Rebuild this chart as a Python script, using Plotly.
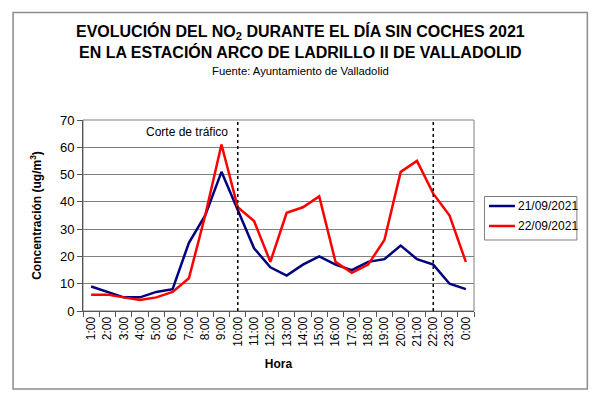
import plotly.graph_objects as go

hours = ["1:00", "2:00", "3:00", "4:00", "5:00", "6:00", "7:00", "8:00", "9:00", "10:00",
         "11:00", "12:00", "13:00", "14:00", "15:00", "16:00", "17:00", "18:00", "19:00",
         "20:00", "21:00", "22:00", "23:00", "0:00"]
day21 = [9, 7, 5, 5, 7, 8, 25, 35, 51, 37, 23, 16, 13, 17, 20, 17, 15, 18, 19, 24, 19, 17, 10, 8]
day22 = [6, 6, 5, 4, 5, 7, 12, 35, 61, 38, 33, 18, 36, 38, 42, 18, 14, 17, 26, 51, 55, 43, 35, 18]
series_names = ["21/09/2021", "22/09/2021"]
series_colors = ["#00007F", "#FF0000"]
cut_hours = ["10:00", "22:00"]
y_ticks = [0, 10, 20, 30, 40, 50, 60, 70]

OFF = 8  # page body margin
W, H = 600 - OFF, 399 - OFF
L, R, T, B = 82.5 - OFF, 474 - OFF, 120 - OFF, 311 - OFF


def px(x):
    return (x - OFF - L) / (R - L)


def py(y):
    return (B - (y - OFF)) / (B - T)


FONT = "Liberation Sans, Arial, sans-serif"

fig = go.Figure()
for name, vals, col in zip(series_names, [day21, day22], series_colors):
    fig.add_trace(go.Scatter(x=hours, y=vals, mode="lines", name=name,
                             line=dict(color=col, width=2.5), showlegend=False))

for h in cut_hours:
    fig.add_shape(type="line", xref="x", yref="paper", x0=h, x1=h, y0=0, y1=1,
                  line=dict(color="black", width=1.5, dash="dot"))

# plot area border
fig.add_shape(type="rect", xref="paper", yref="paper", x0=0, x1=1, y0=0, y1=1,
              line=dict(color="#808080", width=1), layer="below")
# outer chart border
fig.add_shape(type="rect", xref="paper", yref="paper", x0=px(12.5), x1=px(587.5),
              y0=py(389), y1=py(12.5), line=dict(color="#8c8c8c", width=1.5))

# legend box (drawn to match the reference's compact legend)
fig.add_shape(type="rect", xref="paper", yref="paper", x0=px(484.5), x1=px(577),
              y0=py(240), y1=py(196.5), line=dict(color="#808080", width=1),
              fillcolor="white")
for i, (name, col) in enumerate(zip(series_names, series_colors)):
    yy = 206 + i * 20
    fig.add_shape(type="line", xref="paper", yref="paper", x0=px(489), x1=px(515),
                  y0=py(yy), y1=py(yy), line=dict(color=col, width=2.5))
    fig.add_annotation(text=name, xref="paper", yref="paper", x=px(516), y=py(yy),
                       showarrow=False, xanchor="left", yanchor="middle",
                       font=dict(size=12, color="black", family=FONT))

fig.add_annotation(text="<b>EVOLUCIÓN DEL NO<sub>2</sub> DURANTE EL DÍA SIN COCHES 2021</b>",
                   xref="paper", yref="paper", x=px(300), y=py(32), showarrow=False,
                   font=dict(size=16, color="black", family=FONT), xanchor="center", yanchor="middle")
fig.add_annotation(text="<b>EN LA ESTACIÓN ARCO DE LADRILLO II DE VALLADOLID</b>",
                   xref="paper", yref="paper", x=px(300), y=py(52), showarrow=False,
                   font=dict(size=16, color="black", family=FONT), xanchor="center", yanchor="middle")
fig.add_annotation(text="Fuente: Ayuntamiento de Valladolid",
                   xref="paper", yref="paper", x=px(300), y=py(71), showarrow=False,
                   font=dict(size=11.3, color="black", family=FONT), xanchor="center", yanchor="middle")
fig.add_annotation(text="Corte de tráfico",
                   xref="paper", yref="paper", x=px(186.5), y=py(132), showarrow=False,
                   font=dict(size=12, color="black", family=FONT), xanchor="center", yanchor="middle")

fig.update_layout(
    width=W, height=H,
    margin=dict(l=L, r=W - R, t=T, b=H - B, pad=0),
    paper_bgcolor="white", plot_bgcolor="white",
    font=dict(family=FONT, color="black", size=12),
    showlegend=False,
    xaxis=dict(type="category", categoryorder="array", categoryarray=hours,
               tickangle=-90, ticks="outside", tickson="boundaries", ticklen=5,
               tickcolor="#555", showline=True, linecolor="#555", linewidth=1,
               showgrid=False, tickfont=dict(size=12),
               title=dict(text="<b>Hora</b>", font=dict(size=12), standoff=13),
               range=[-0.5, len(hours) - 0.5]),
    yaxis=dict(range=[0, 70], tickvals=y_ticks, ticks="outside", ticklen=5,
               tickcolor="#555", showline=True, linecolor="#555", linewidth=1,
               showgrid=True, gridcolor="#808080", gridwidth=1, zeroline=False,
               tickfont=dict(size=13),
               title=dict(text="<b>Concentración (ug/m<sup>3</sup>)</b>", font=dict(size=12),
                          standoff=15)),
)

fig.write_html("out.html")
